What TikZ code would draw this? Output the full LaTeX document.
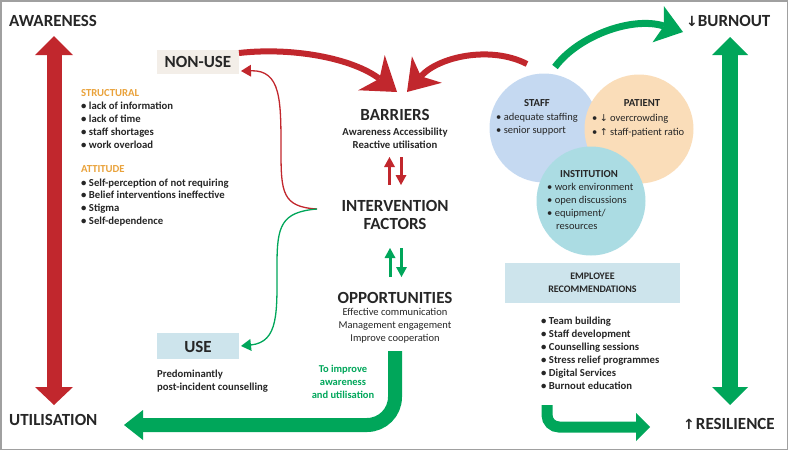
\documentclass[tikz,border=0pt]{standalone}
\usepackage{fontspec}
\setmainfont{Carlito}
\newfontfamily\symfont{DejaVu Sans}
\usetikzlibrary{arrows.meta}
\definecolor{myred}{HTML}{C1272D}
\definecolor{mygreen}{HTML}{00A65A}
\definecolor{txt}{HTML}{262626}
\definecolor{orng}{HTML}{E9A23B}
\definecolor{beige}{HTML}{F3EEE8}
\definecolor{lblue}{HTML}{CDE4EC}
\definecolor{cstaff}{HTML}{C5D9F1}
\definecolor{cpat}{HTML}{FADDB9}
\definecolor{cinst}{HTML}{ABDCE3}
\definecolor{framec}{HTML}{A0A0A0}
\tikzset{
  big/.style={font=\fontsize{17}{20}\selectfont\bfseries, text=txt, inner sep=0pt},
  sm/.style={font=\fontsize{10.5}{13}\selectfont, text=txt, inner sep=0pt},
  smb/.style={font=\fontsize{10.7}{13}\selectfont\bfseries, text=txt, inner sep=0pt},
  head/.style={font=\fontsize{10.7}{13}\selectfont\bfseries, text=orng, inner sep=0pt},
  gtxt/.style={font=\fontsize{10.5}{13}\selectfont\bfseries, text=mygreen, inner sep=0pt},
  labelbox/.style={inner sep=0pt, minimum width=82pt, minimum height=26pt},
  thickred/.style={myred, line width=6pt, -{Stealth[length=32pt,width=44pt,inset=10pt,line width=0pt]}},
  thinarrow/.style={line width=1.3pt, -{Triangle[length=10pt,width=12pt,line width=0pt]}},
  smallud/.style={line width=3pt, -{Triangle[length=10pt,width=11pt,line width=0pt]}},
}
\begin{document}
\begin{tikzpicture}[x=1pt,y=-1pt]
\useasboundingbox (0,0) rectangle (788,450);
\draw[framec, line width=1.5pt] (0.75,0.75) rectangle (787.25,449.25);

% ---- big vertical double arrows
\coordinate (rTop) at (54,36);
\coordinate (rBot) at (54,405);
\draw[myred, line width=15pt, {Triangle[length=19pt,width=38pt,line width=0pt]}-{Triangle[length=18pt,width=38pt,line width=0pt]}] (rTop) -- (rBot);
\coordinate (gTop) at (730,37);
\coordinate (gBot) at (730,405);
\draw[mygreen, line width=16pt, {Triangle[length=18pt,width=36pt,line width=0pt]}-{Triangle[length=18pt,width=36pt,line width=0pt]}] (gTop) -- (gBot);

% ---- corner labels
\node[big, anchor=base west] (aware) at (9,26.5) {AWARENESS};
\node[big, anchor=base west] (util) at (9,425.5) {UTILISATION};
\node[big, anchor=base west] (burn) at (686,26.5) {{\symfont\fontsize{14}{14}\selectfont ↓}BURNOUT};
\node[big, anchor=base west] (resil) at (683,429) {{\symfont\fontsize{14}{14}\selectfont ↑}\kern1pt RESILIENCE};

% ---- NON-USE / USE boxes
\node[labelbox, fill=beige, minimum height=24pt] (nonuse) at (198,62) {};
\node[big] (nonuseT) at (198,62) {NON-USE};
\node[labelbox, fill=lblue] (use) at (198,346) {};
\node[big] (useT) at (198,347) {USE};
\node[smb, anchor=base west] (pred1) at (157,377.5) {Predominantly};
\node[smb, anchor=base west] (pred2) at (157,390.3) {post-incident counselling};

% ---- left lists
\node[head, anchor=base west] (hs) at (81,96.6) {STRUCTURAL};
\node[smb, anchor=base west] (s1) at (81,109.8) {\textbullet\ lack of information};
\node[smb, anchor=base west] (s2) at (81,122.7) {\textbullet\ lack of time};
\node[smb, anchor=base west] (s3) at (81,135.7) {\textbullet\ staff shortages};
\node[smb, anchor=base west] (s4) at (81,148.6) {\textbullet\ work overload};
\node[head, anchor=base west] (ha) at (81,172.6) {ATTITUDE};
\node[smb, anchor=base west] (a1) at (81,186.3) {\textbullet\ Self-perception of not requiring};
\node[smb, anchor=base west] (a2) at (81,198.8) {\textbullet\ Belief interventions ineffective};
\node[smb, anchor=base west] (a3) at (81,211.8) {\textbullet\ Stigma};
\node[smb, anchor=base west] (a4) at (81,224.6) {\textbullet\ Self-dependence};

% ---- centre column
\node[big, anchor=base] (barr) at (395,120.5) {BARRIERS};
\node[smb, anchor=base] (barr1) at (395,135.5) {Awareness Accessibility};
\node[smb, anchor=base] (barr2) at (395,148.5) {Reactive utilisation};
\node[big, anchor=base] (int1) at (395,211.5) {INTERVENTION};
\node[big, anchor=base] (int2) at (395,229.5) {FACTORS};
\node[big, anchor=base] (opp) at (395,303.5) {OPPORTUNITIES};
\node[sm, anchor=base] (opp1) at (395,315.3) {Effective communication};
\node[sm, anchor=base] (opp2) at (395,328.5) {Management engagement};
\node[sm, anchor=base] (opp3) at (395,341.5) {Improve cooperation};
\node[gtxt, anchor=base] (imp1) at (343,372) {To improve};
\node[gtxt, anchor=base] (imp2) at (343,385) {awareness};
\node[gtxt, anchor=base] (imp3) at (343,398) {and utilisation};

% small up/down arrows
\coordinate (ru1) at (389.5,185); \coordinate (ru2) at (389.5,157);
\coordinate (rd1) at (401,157); \coordinate (rd2) at (401,185);
\draw[myred, smallud] (ru1) -- (ru2);
\draw[myred, smallud] (rd1) -- (rd2);
\coordinate (gu1) at (390,277); \coordinate (gu2) at (390,248);
\coordinate (gd1) at (401.5,248); \coordinate (gd2) at (401.5,277);
\draw[mygreen, smallud] (gu1) -- (gu2);
\draw[mygreen, smallud] (gd1) -- (gd2);

% ---- brace-like thin arrows
\coordinate (brace) at (317,209);
\coordinate (nuTip) at (241,71);
\coordinate (uTip) at (241,346);
\draw[myred, thinarrow] (brace) .. controls (282,207) and (281,192) .. (281,150) .. controls (281,100) and (281,70) .. (nuTip);
\draw[mygreen, thinarrow] (brace) .. controls (281,212) and (277,226) .. (277,265) .. controls (277,312) and (279,342) .. (uTip);

% ---- thick red arrows into BARRIERS
\coordinate (nuStart) at (239,53);
\coordinate (lTip) at (397,92);
\coordinate (stStart) at (527,64);
\coordinate (rTip) at (407,92);
\draw[thickred] (nuStart) .. controls (292,47) and (352,58) .. (lTip);
\draw[myred, line width=6pt, -{Stealth[length=30pt,width=40pt,inset=9pt,line width=0pt]}] (stStart) .. controls (490,45) and (438,57) .. (rTip);

% ---- circles
\fill[cstaff] (544,128) circle (54.5);
\fill[cpat] (639,129) circle (54.5);
\fill[cinst] (591,201) circle (54.5);
\node[smb, anchor=base] (staff) at (537,106.8) {STAFF};
\node[sm, anchor=base west] (st1) at (496,120.3) {\textbullet\ adequate staffing};
\node[sm, anchor=base west] (st2) at (496,133) {\textbullet\ senior support};
\node[smb, anchor=base] (pat) at (642,106.6) {PATIENT};
\node[sm, anchor=base west] (pa1) at (592,121.9) {\textbullet\ {\symfont\fontsize{9.5}{9.5}\selectfont ↓} overcrowding};
\node[sm, anchor=base west] (pa2) at (592,135.9) {\textbullet\ {\symfont\fontsize{9.5}{9.5}\selectfont ↑} staff-patient ratio};
\node[smb, anchor=base] (inst) at (589,177.6) {INSTITUTION};
\node[sm, anchor=base west] (in1) at (547,190.3) {\textbullet\ work environment};
\node[sm, anchor=base west] (in2) at (547,203.6) {\textbullet\ open discussions};
\node[sm, anchor=base west] (in3) at (547,216.3) {\textbullet\ equipment/};
\node[sm, anchor=base west] (in4) at (556,229.6) {resources};

% ---- green curved arrow to BURNOUT
\coordinate (gcStart) at (555,67);
\coordinate (gcTip) at (683,32);
\draw[mygreen, line width=7pt, -{Stealth[length=26pt,width=38pt,inset=6pt,line width=0pt]}] (gcStart) .. controls (578,36) and (632,16) .. (gcTip);

% ---- employee recommendations
\node[fill=lblue, minimum width=175pt, minimum height=40pt, inner sep=0pt, align=center,
      font=\fontsize{10}{13}\selectfont\bfseries, text=txt] (emp) at (592.5,283) {EMPLOYEE\\RECOMMENDATIONS};
\node[smb, anchor=base west] (e1) at (541,324.3) {\textbullet\ Team building};
\node[smb, anchor=base west] (e2) at (541,337.3) {\textbullet\ Staff development};
\node[smb, anchor=base west] (e3) at (541,350.3) {\textbullet\ Counselling sessions};
\node[smb, anchor=base west] (e4) at (541,363) {\textbullet\ Stress relief programmes};
\node[smb, anchor=base west] (e5) at (541,376.3) {\textbullet\ Digital Services};
\node[smb, anchor=base west] (e6) at (541,389.3) {\textbullet\ Burnout education};

% ---- bent green arrows
\coordinate (oppStart) at (395,351);
\coordinate (oppCorner) at (395,425);
\coordinate (utilTip) at (124,425);
\draw[mygreen, line width=14pt, rounded corners=28pt, -{Triangle[length=19pt,width=30pt,line width=0pt]}] (oppStart) -- (oppCorner) -- (utilTip);
\coordinate (recStart) at (547,405);
\coordinate (recCorner) at (547,427);
\coordinate (resTip) at (650,427);
\draw[mygreen, line width=11pt, rounded corners=12pt, -{Triangle[length=14pt,width=28pt,line width=0pt]}] (recStart) -- (recCorner) -- (resTip);
\end{tikzpicture}
\end{document}
